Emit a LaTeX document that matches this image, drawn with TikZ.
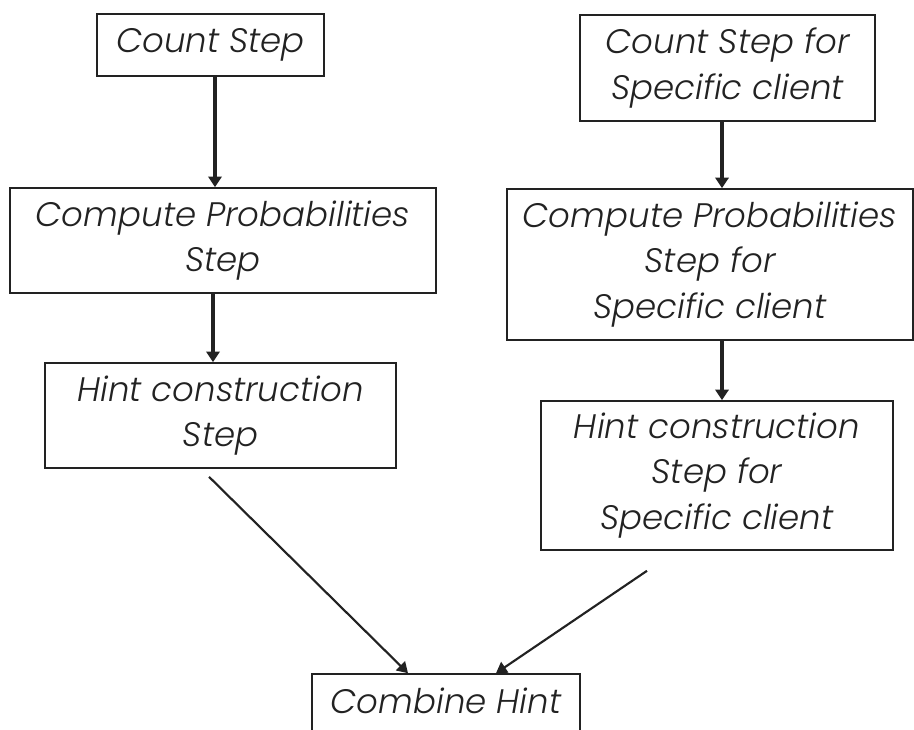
\documentclass[tikz,border=0pt]{standalone}
\usepackage{fontspec}
\newfontfamily\hand{Poppins Light Italic}
\usetikzlibrary{arrows.meta,calc}
\definecolor{ink}{HTML}{222222}
\tikzset{
  stepbox/.style={draw=ink, line width=1.2pt, rectangle, inner sep=0pt,
    align=center, text=ink, font=\hand\fontsize{25.5}{34}\selectfont},
  flow/.style={draw=ink, line width=2.4pt, -{Triangle[width=10pt,length=8pt]}},
  slant/.style={draw=ink, line width=1.6pt, -{Triangle[width=9.5pt,length=8pt]}}
}
\begin{document}
\begin{tikzpicture}[x=0.75pt,y=-0.75pt]
\useasboundingbox (0,0) rectangle (914,730);

% left column: general steps
\node[stepbox, minimum width=227*0.75pt, minimum height=62*0.75pt] (cs) at (210.5,45) {Count Step};
\node[stepbox, minimum width=426*0.75pt, minimum height=105*0.75pt] (cp) at (223,240.5) {Compute Probabilities\\Step};
\node[stepbox, minimum width=351*0.75pt, minimum height=105*0.75pt] (hc) at (220.5,415.5) {Hint construction\\Step};

% right column: client-specific steps
\node[stepbox, minimum width=295*0.75pt, minimum height=106*0.75pt] (rcs) at (727.5,68) {Count Step for\\Specific client};
\node[stepbox, minimum width=406*0.75pt, minimum height=151*0.75pt] (rcp) at (710,264.5) {Compute Probabilities\\Step for\\Specific client};
\node[stepbox, minimum width=352*0.75pt, minimum height=149*0.75pt] (rhc) at (717,475.5) {Hint construction\\Step for\\Specific client};

% merge step, running past the lower edge
\node[stepbox, minimum width=268*0.75pt, minimum height=72*0.75pt,
      text height=18pt, text depth=13pt] (ch) at (446,710) {Combine Hint};

% connectors
\draw[flow] ($(cs.south)+(4.5,0)$) -- ($(cp.north)+(-8,0)$);
\draw[flow] ($(cp.south)+(-10,0)$) -- ($(hc.north)+(-7.5,0)$);
\draw[flow] ($(rcs.south)+(-5.5,0)$) -- ($(rcp.north)+(12,0)$);
\draw[flow] ($(rcp.south)+(12,0)$) -- ($(rhc.north)+(5,0)$);
\draw[slant] ($(hc.south)+(-11.5,8)$) -- ($(ch.north)+(-38,0)$);
\draw[slant] ($(rhc.south)+(-70,20)$) -- ($(ch.north)+(50,0)$);
\end{tikzpicture}
\end{document}
